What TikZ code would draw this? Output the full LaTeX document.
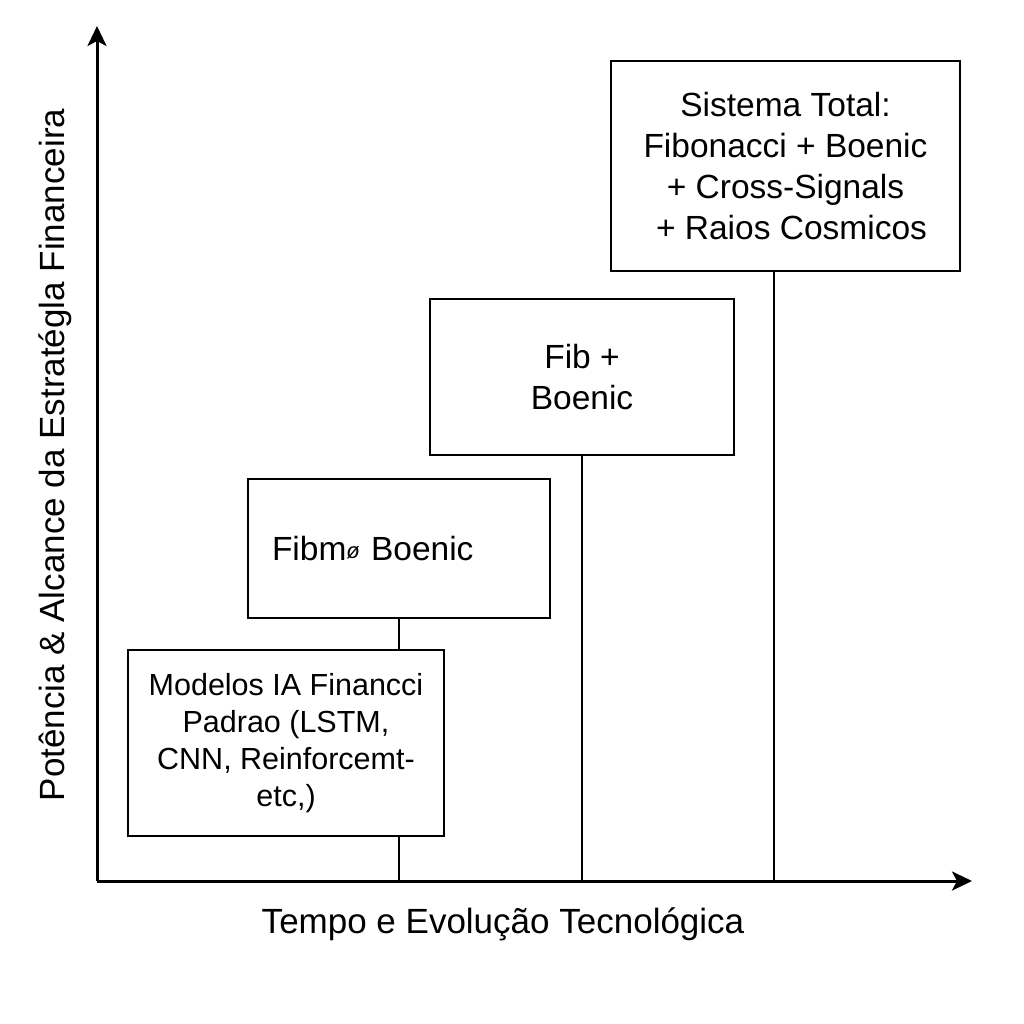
\documentclass[tikz,border=0pt]{standalone}
\usepackage{fontspec}
\setmainfont{Liberation Sans}
\usetikzlibrary{positioning,arrows.meta}
\tikzset{
  axisarrow/.style={-{Stealth[length=20pt,width=19pt,inset=5pt]},line width=3pt},
  stg/.style={draw,fill=white,line width=2.4pt,minimum width=#1,align=center,font=\fontsize{33.5}{41}\selectfont},
  link/.style={line width=2.4pt},
  lbl/.style={font=\fontsize{35}{35}\selectfont},
}
\begin{document}
\begin{tikzpicture}[x=1pt,y=-1pt]
\useasboundingbox (0,0) rectangle (1024,1024);
% axes
\coordinate (o) at (97,881);
\coordinate (ytip) at (97,26);
\coordinate (xtip) at (972,881);
\draw[axisarrow] (o) -- (ytip);
\draw[axisarrow] (o) -- (xtip);
\node[lbl] (xlab) at (503,924) {Tempo e Evolução Tecnológica};
\node[lbl,rotate=90] (ylab) at (55,455) {Potência \& Alcance da Estratégla Financeira};
% stages
\node[stg=302pt,minimum height=139pt,align=left,text width=254pt,inner xsep=24pt] (fb1) at (399,548.5)
  {Fibm\raisebox{2pt}{\fontsize{22}{22}\selectfont\itshape ø}\ Boenic};
\node[stg=304pt,minimum height=156pt] (fb2) at (582,377) {Fib +\\Boenic};
\node[stg=349pt,minimum height=210pt,inner xsep=0pt] (tot) at (785.5,166)
  {Sistema Total:\\Fibonacci + Boenic\\+ Cross-Signals\\\hspace*{12pt}+ Raios Cosmicos};
\coordinate (t1) at (399,881);
\coordinate (t2) at (582,881);
\coordinate (t3) at (774,881);
\draw[link] (fb1.south) -- (t1);
\draw[link] (fb2.south) -- (t2);
\draw[link] (t3 |- tot.south) -- (t3);
\node[stg=316pt,minimum height=186pt,font=\fontsize{30.5}{37}\selectfont] (ia) at (286,743)
  {Modelos IA Financci\\Padrao (LSTM,\\CNN, Reinforcemt-\\etc,)};
\end{tikzpicture}
\end{document}
